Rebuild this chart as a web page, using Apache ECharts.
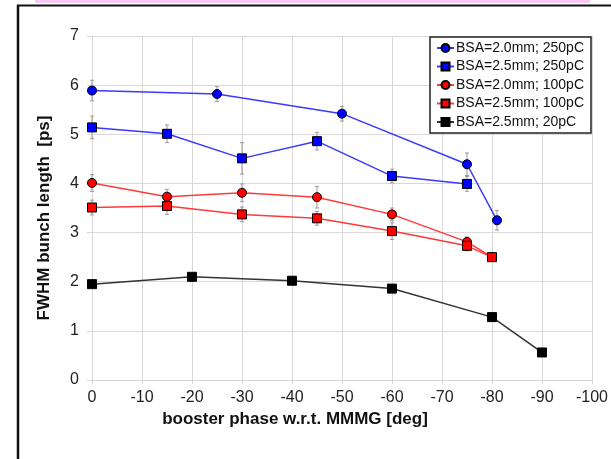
<!DOCTYPE html>
<html>
<head>
<meta charset="utf-8">
<script src="https://cdn.jsdelivr.net/npm/echarts@6/dist/echarts.min.js"></script>
<style>
html, body { margin: 0; padding: 0; background: #fff; }
#main { width: 611px; height: 459px; }
</style>
</head>
<body>
<div id="main"></div>
<script>
var myChart = echarts.init(document.getElementById('main'));

/* data */
var names = ['BSA=2.0mm; 250pC', 'BSA=2.5mm; 250pC', 'BSA=2.0mm; 100pC', 'BSA=2.5mm; 100pC', 'BSA=2.5mm; 20pC'];

var phaseA = [0, -25, -50, -75, -81];
var lenA = [5.89, 5.82, 5.42, 4.39, 3.25];
var errA = [0.21, 0.15, 0.15, 0.23, 0.2];

var phaseB = [0, -15, -30, -45, -60, -75];
var lenB = [5.14, 5.01, 4.51, 4.86, 4.15, 3.99];
var errB = [0.23, 0.18, 0.32, 0.18, 0.14, 0.15];

var phaseC = [0, -15, -30, -45, -60, -75, -80];
var lenC = [4.01, 3.73, 3.81, 3.72, 3.37, 2.81, 2.50];
var errC = [0.17, 0.15, 0.18, 0.22, 0.13, 0.1, 0];

var phaseD = [0, -15, -30, -45, -60, -75, -80];
var lenD = [3.51, 3.54, 3.37, 3.29, 3.03, 2.73, 2.50];
var errD = [0.15, 0.17, 0.15, 0.14, 0.17, 0.1, 0.05];

var phaseE = [0, -20, -40, -60, -80, -90];
var lenE = [1.95, 2.10, 2.02, 1.86, 1.28, 0.56];

var xTicks = [0, -10, -20, -30, -40, -50, -60, -70, -80, -90, -100];

function pairs(xs, ys) {
	var list = [];
	for (var i = 0; i < xs.length; i++) {
		list.push([xs[i], ys[i]]);
	}
	return list;
}

function bars(xs, ys, es) {
	var list = [];
	for (var i = 0; i < xs.length; i++) {
		if (es[i] > 0) list.push([xs[i], ys[i] - es[i], ys[i] + es[i]]);
	}
	return list;
}

function errorSeries(data) {
	return {
		type: 'custom',
		silent: true,
		z: 1,
		data: data,
		renderItem: function (params, api) {
			var top = api.coord([api.value(0), api.value(2)]);
			var bot = api.coord([api.value(0), api.value(1)]);
			var w = 2;
			var st = { stroke: '#9a9a9a', lineWidth: 1 };
			return {
				type: 'group',
				children: [
					{ type: 'line', shape: { x1: top[0], y1: top[1], x2: bot[0], y2: bot[1] }, style: st },
					{ type: 'line', shape: { x1: top[0] - w, y1: top[1], x2: top[0] + w, y2: top[1] }, style: st },
					{ type: 'line', shape: { x1: bot[0] - w, y1: bot[1], x2: bot[0] + w, y2: bot[1] }, style: st }
				]
			};
		}
	};
}

function lineSeries(name, data, lineColor, fill, symbol, size) {
	return {
		name: name,
		type: 'line',
		z: 3,
		data: data,
		symbol: symbol,
		symbolSize: size,
		lineStyle: { color: lineColor, width: 1.5 },
		itemStyle: { color: fill, borderColor: '#000', borderWidth: 1 },
		emphasis: { disabled: true }
	};
}

var option = {
	animation: false,
	textStyle: { fontFamily: 'Liberation Sans, Arial, sans-serif' },
	grid: { left: 92, right: 19, top: 36, bottom: 79 },
	graphic: [
		{ type: 'rect', shape: { x: 35, y: 0, width: 555, height: 3 }, style: { fill: '#f6c8f3' } },
		{ type: 'line', shape: { x1: 17, y1: 5.5, x2: 611, y2: 5.5 }, style: { stroke: '#111', lineWidth: 2 } },
		{ type: 'line', shape: { x1: 18, y1: 5, x2: 18, y2: 459 }, style: { stroke: '#111', lineWidth: 2.5 } }
	],
	legend: {
		data: names,
		orient: 'vertical',
		left: 430,
		top: 37,
		padding: [4, 7, 4, 6],
		itemGap: 4.5,
		itemWidth: 17,
		itemHeight: 10,
		backgroundColor: '#fff',
		borderColor: '#222',
		borderWidth: 1.5,
		borderRadius: 0,
		textStyle: { fontSize: 14, color: '#111', padding: [0, 0, 0, -3] }
	},
	xAxis: {
		type: 'value',
		inverse: true,
		min: -100,
		max: 0,
		interval: 10,
		name: 'booster phase w.r.t. MMMG [deg]',
		nameLocation: 'middle',
		nameGap: 22,
		nameTextStyle: { fontSize: 17, fontWeight: 'bold', color: '#111', padding: [0, 94, 0, 0] },
		axisLine: { show: true, lineStyle: { color: '#d6d6d6' } },
		axisTick: { show: true, length: 4, lineStyle: { color: '#d6d6d6' } },
		axisLabel: {
			fontSize: 16, color: '#222', margin: 10,
			formatter: function (v) { return xTicks.indexOf(v) >= 0 ? String(v) : ''; }
		},
		splitLine: { show: true, lineStyle: { color: '#d9d9d9' } }
	},
	yAxis: {
		type: 'value',
		min: 0,
		max: 7,
		interval: 1,
		name: 'FWHM bunch length  [ps]',
		nameLocation: 'middle',
		nameGap: 39,
		nameTextStyle: { fontSize: 17, fontWeight: 'bold', color: '#111', padding: [0, 20, 0, 0] },
		axisLine: { show: false },
		axisTick: { show: true, length: 5, lineStyle: { color: '#d6d6d6' } },
		axisLabel: { fontSize: 16, color: '#222', margin: 13 },
		splitLine: { show: true, lineStyle: { color: '#d9d9d9' } }
	},
	series: [
		errorSeries(bars(phaseA, lenA, errA)),
		errorSeries(bars(phaseB, lenB, errB)),
		errorSeries(bars(phaseC, lenC, errC)),
		errorSeries(bars(phaseD, lenD, errD)),
		lineSeries(names[0], pairs(phaseA, lenA), '#3a3aff', '#0000ff', 'circle', 9),
		lineSeries(names[1], pairs(phaseB, lenB), '#3a3aff', '#0000ff', 'rect', 9),
		lineSeries(names[2], pairs(phaseC, lenC), '#ff3a3a', '#ff0000', 'circle', 9),
		lineSeries(names[3], pairs(phaseD, lenD), '#ff3a3a', '#ff0000', 'rect', 9),
		lineSeries(names[4], pairs(phaseE, lenE), '#333333', '#000000', 'rect', 9)
	]
};

myChart.setOption(option);
</script>
</body>
</html>
